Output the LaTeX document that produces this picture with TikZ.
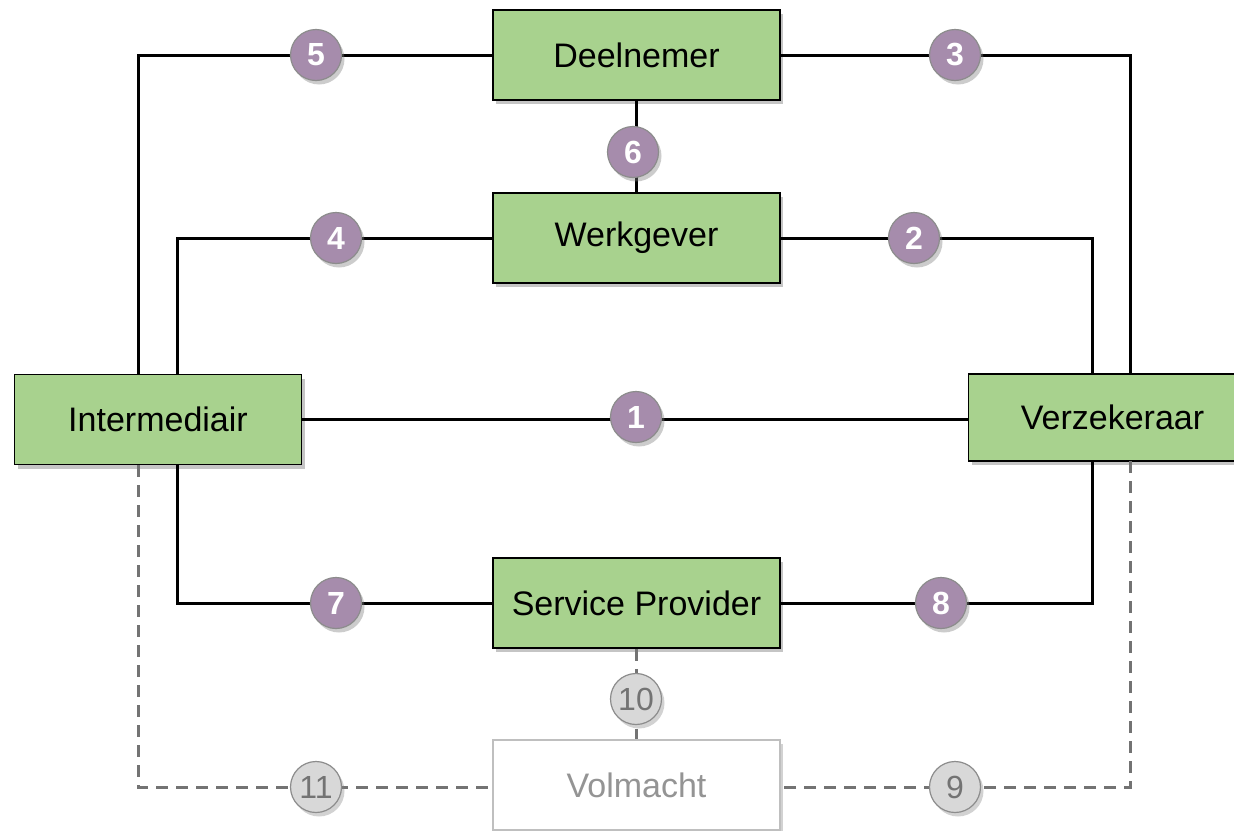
\documentclass[tikz,border=0pt]{standalone}
\usepackage{fontspec}
\setmainfont{Liberation Sans}
\usetikzlibrary{shadows,calc}
\definecolor{boxgreen}{RGB}{168,210,142}
\definecolor{numpurple}{RGB}{166,140,172}
\definecolor{numgray}{RGB}{216,216,216}
\begin{document}
\begin{tikzpicture}[x=1pt,y=-1pt,
  box/.style={draw=black,line width=1.6pt,fill=boxgreen,minimum width=287pt,minimum height=90pt,inner sep=0pt,
    font=\fontsize{34}{40}\selectfont,drop shadow={opacity=0.45,shadow xshift=3pt,shadow yshift=-4pt}},
  ghostbox/.style={draw=black!25,line width=1.4pt,fill=white,minimum width=287pt,minimum height=90pt,inner sep=0pt,
    text=black!42,font=\fontsize{34}{40}\selectfont,drop shadow={opacity=0.35,shadow xshift=3pt,shadow yshift=-4pt}},
  num/.style={circle,draw=black!45,line width=1.2pt,fill=numpurple,minimum size=51pt,inner sep=0pt,
    text=white,font=\fontsize{32}{32}\selectfont\bfseries,drop shadow={opacity=0.4,shadow xshift=3pt,shadow yshift=-4pt}},
  gnum/.style={circle,draw=black!45,line width=1.2pt,fill=numgray,minimum size=51pt,inner sep=0pt,
    text=black!55,font=\fontsize{32}{32}\selectfont,drop shadow={opacity=0.35,shadow xshift=3pt,shadow yshift=-4pt}},
  link/.style={draw=black,line width=3pt},
  glink/.style={draw=black!55,line width=3pt,dash pattern=on 12pt off 8pt}]
\useasboundingbox[fill=white] (0,0) rectangle (1234,830);

% boxes
\node[box] (D) at (636.5,55) {Deelnemer};
\node[box] (W) at (636.5,238) {Werkgever};
\node[box] (I) at (158,419.5) {Intermediair};
\node[box,minimum height=87pt,minimum width=300pt] (V) at (1118.5,417.5) {\hspace*{-12pt}Verzekeraar};
\node[box] (S) at (636.5,603) {Service Provider};

% dashed gray links (behind)
\draw[glink] (S.south) -- (S.south |- 0,740);
\draw[glink] ([xshift=-20pt]I.south) -- (138,787) -- (493,787);
\draw[glink] (1130,461) -- (1130,787) -- (780,787);

\node[ghostbox] (M) at (636.5,785) {Volmacht};

% solid links
\draw[link] (D.west) -| ([xshift=-20pt]I.north);
\draw[link] (D.east) -| (1130,374);
\draw[link] (D.south) -- (W.north);
\draw[link] (W.west) -| ([xshift=19pt]I.north);
\draw[link] (W.east) -| (1092,374);
\draw[link] (I.east) -- (V.west |- I.east);
\draw[link] ([xshift=19pt]I.south) |- (S.west);
\draw[link] (1092,461) |- (S.east);

% number markers
\node[num] (n1) at (636,417) {1};
\node[num] (n2) at (914,238) {2};
\node[num] (n3) at (955,55) {3};
\node[num] (n4) at (336,238) {4};
\node[num] (n5) at (316,55) {5};
\node[num] (n6) at (633,152) {6};
\node[num] (n7) at (336,603) {7};
\node[num] (n8) at (941,603) {8};
\node[gnum] (n9) at (955,787) {9};
\node[gnum] (n10) at (636,699) {10};
\node[gnum] (n11) at (316,787) {11};
\end{tikzpicture}
\end{document}
